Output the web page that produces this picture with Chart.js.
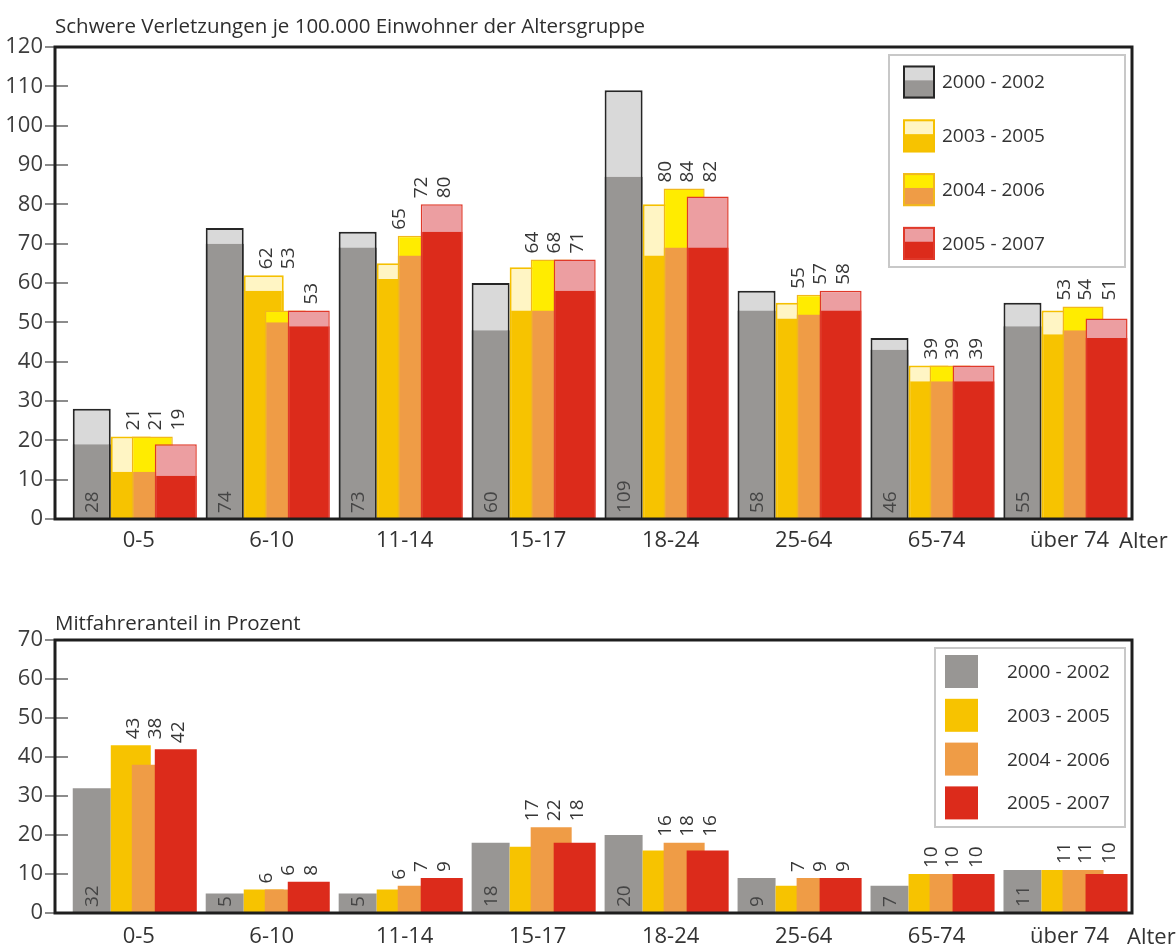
<!DOCTYPE html>
<html><head><meta charset="utf-8">
<script src="https://cdn.jsdelivr.net/npm/chart.js@4"></script>
<style>
html,body{margin:0;padding:0;background:#fff;}
#wrap{position:relative;width:1176px;height:950px;overflow:hidden;}
#c1{position:absolute;left:0;top:0;}
#c2{position:absolute;left:0;top:585px;}
</style></head><body>
<div id="wrap">
<canvas id="c1" width="1176" height="585"></canvas>
<canvas id="c2" width="1176" height="365"></canvas>
</div>
<script>
// ---------------- DATA ----------------
const categories = ['0-5', '6-10', '11-14', '15-17', '18-24', '25-64', '65-74', 'über 74'];
const seriesNames = ['2000 - 2002', '2003 - 2005', '2004 - 2006', '2005 - 2007'];

// Top chart: serious injuries per 100,000 inhabitants (bar height as drawn)
const injTotal0002 = [28, 74, 73, 60, 109, 58, 46, 55];
const injTotal0305 = [21, 62, 65, 64, 80, 55, 39, 53];
const injTotal0406 = [21, 53, 72, 66, 84, 57, 39, 54];
const injTotal0507 = [19, 53, 80, 66, 82, 58, 39, 51];
// darker lower part of each bar
const injLower0002 = [19, 70, 69, 48, 87, 53, 43, 49];
const injLower0305 = [12, 58, 61, 53, 67, 51, 35, 47];
const injLower0406 = [12, 50, 67, 53, 69, 52, 35, 48];
const injLower0507 = [11, 49, 73, 58, 69, 53, 35, 46];
// printed value labels
const injLabel0002 = ['28', '74', '73', '60', '109', '58', '46', '55'];
const injLabel0305 = ['21', '62', '65', '64', '80', '55', '39', '53'];
const injLabel0406 = ['21', '53', '72', '68', '84', '57', '39', '54'];
const injLabel0507 = ['19', '53', '80', '71', '82', '58', '39', '51'];

// Bottom chart: share of passengers in percent
const shr0002 = [32, 5, 5, 18, 20, 9, 7, 11];
const shr0305 = [43, 6, 6, 17, 16, 7, 10, 11];
const shr0406 = [38, 6, 7, 22, 18, 9, 10, 11];
const shr0507 = [42, 8, 9, 18, 16, 9, 10, 10];

const topTitle = 'Schwere Verletzungen je 100.000 Einwohner der Altersgruppe';
const bottomTitle = 'Mitfahreranteil in Prozent';
const axisWord = 'Alter';

// ---------------- STYLE ----------------
const FONT = "'Open Sans', 'Noto Sans', sans-serif";
const barLayout = [
  { off: -0.3236, w: 38 },
  { off: -0.0301, w: 40 },
  { off: 0.1317, w: 41 },
  { off: 0.3085, w: 42 }
];
const topStyles = [
  { dark: '#989694', light: '#d9d9d9', border: '#262626', bw: 2 },
  { dark: '#f7c300', light: '#fff5c4', border: '#f5c000', bw: 2 },
  { dark: '#ef9c46', light: '#ffec00', border: '#f1b81c', bw: 1.5 },
  { dark: '#dc2b1b', light: '#ec9ea1', border: '#e0392a', bw: 1.5 }
];
const bottomColors = ['#989694', '#f7c300', '#ef9c46', '#dc2b1b'];

const injTotals = [injTotal0002, injTotal0305, injTotal0406, injTotal0507];
const injLowers = [injLower0002, injLower0305, injLower0406, injLower0507];
const injLabels = [injLabel0002, injLabel0305, injLabel0406, injLabel0507];
const shrValues = [shr0002, shr0305, shr0406, shr0507];

function pts(values, s) {
  return values.map((v, i) => ({ x: i + barLayout[s].off, y: v }));
}

// ---------------- PLUGINS ----------------
function frameAndTicks(chart) {
  const ctx = chart.ctx, a = chart.chartArea, ys = chart.scales.y;
  ctx.save();
  ctx.strokeStyle = '#8c8c8c';
  ctx.lineWidth = 2;
  ys.ticks.forEach(t => {
    const y = Math.round(ys.getPixelForValue(t.value));
    ctx.beginPath();
    ctx.moveTo(a.left - 10, y);
    ctx.lineTo(a.left + 13, y);
    ctx.stroke();
  });
  ctx.strokeStyle = '#1e1e1e';
  ctx.lineWidth = 3;
  ctx.strokeRect(a.left, a.top, a.right - a.left, a.bottom - a.top);
  ctx.restore();
}

function drawValueLabels(chart, labelFor, kindFilter) {
  const ctx = chart.ctx;
  const metas = [];
  chart.data.datasets.forEach((d, di) => {
    if (d.kind === kindFilter) metas[d.series] = chart.getDatasetMeta(di);
  });
  ctx.save();
  ctx.font = '19px ' + FONT;
  ctx.textBaseline = 'middle';
  ctx.textAlign = 'left';
  metas.forEach((m, s) => {
    m.data.forEach((el, i) => {
      const p = el.getProps(['x', 'y', 'base', 'width'], true);
      const txt = labelFor(s, i);
      ctx.save();
      if (s === 0) {
        ctx.fillStyle = '#454545';
        ctx.translate(p.x, p.base - 6);
      } else {
        const lx = p.x + 2;
        let top = p.y;
        metas.forEach(m2 => {
          const q = m2.data[i].getProps(['x', 'y', 'width'], true);
          if (q.x - q.width / 2 < lx + 7 && q.x + q.width / 2 > lx - 7) top = Math.min(top, q.y);
        });
        ctx.fillStyle = '#363636';
        ctx.translate(lx, top - 6);
      }
      ctx.rotate(-Math.PI / 2);
      ctx.fillText(txt, 0, 1);
      ctx.restore();
    });
  });
  ctx.restore();
}

function drawLegend(chart, cfg) {
  const ctx = chart.ctx, a = chart.chartArea;
  const bx = a.right - cfg.rightGap - cfg.w, by = a.top + cfg.topGap;
  ctx.save();
  ctx.fillStyle = '#fff';
  ctx.fillRect(bx, by, cfg.w, cfg.h);
  ctx.strokeStyle = '#c8c8c8';
  ctx.lineWidth = 2;
  ctx.strokeRect(bx, by, cfg.w, cfg.h);
  ctx.font = '19px ' + FONT;
  ctx.textBaseline = 'middle';
  ctx.textAlign = 'left';
  seriesNames.forEach((name, s) => {
    const cy = by + cfg.firstY + s * cfg.step;
    const sx = bx + cfg.swX, sy = cy - cfg.swH / 2;
    cfg.swatch(ctx, s, sx, sy, cfg.swW, cfg.swH);
    ctx.fillStyle = '#333';
    ctx.fillText(name, bx + cfg.textX, cy + 1);
  });
  ctx.restore();
}

function drawTexts(chart, title, titleY, alterX, alterY) {
  const ctx = chart.ctx, a = chart.chartArea;
  ctx.save();
  ctx.fillStyle = '#2e2e2e';
  ctx.font = '20.5px ' + FONT;
  ctx.textBaseline = 'alphabetic';
  ctx.textAlign = 'left';
  ctx.fillText(title, a.left, titleY);
  ctx.fillStyle = '#333';
  ctx.font = '22px ' + FONT;
  ctx.textBaseline = 'middle';
  ctx.fillText(axisWord, alterX, alterY);
  ctx.restore();
}

// ---------------- TOP CHART ----------------
const topDatasets = [];
seriesNames.forEach((name, s) => {
  const st = topStyles[s], L = barLayout[s];
  topDatasets.push({
    label: name, kind: 'total', series: s,
    data: pts(injTotals[s], s),
    backgroundColor: st.light, borderColor: st.border,
    borderWidth: { top: st.bw, left: st.bw, right: st.bw, bottom: 0 },
    barThickness: L.w, grouped: false, inflateAmount: 0,
    order: 20 - 2 * s
  });
  topDatasets.push({
    label: name + ' (lower)', kind: 'lower', series: s,
    data: pts(injLowers[s], s),
    backgroundColor: st.dark, borderColor: st.border,
    borderWidth: { top: 0, left: st.bw, right: st.bw, bottom: 0 },
    barThickness: L.w, grouped: false, inflateAmount: 0,
    order: 19 - 2 * s
  });
});

function xScale(h, pad) {
  return {
    type: 'linear', min: -0.6, max: 7.5, offset: false,
    grid: { display: false, drawTicks: false, offset: false }, border: { display: false },
    afterBuildTicks: sc => { sc.ticks = categories.map((c, i) => ({ value: i })); },
    afterFit: sc => { sc.height = h; },
    ticks: {
      autoSkip: false, maxRotation: 0, minRotation: 0, padding: pad, labelOffset: 4,
      color: '#333', font: { family: FONT, size: 22 },
      callback: v => categories[Math.round(v)] || ''
    }
  };
}
function yScale(max) {
  return {
    min: 0, max: max,
    grid: { display: false, drawTicks: false }, border: { display: false },
    afterFit: sc => { sc.width = 55; },
    ticks: { stepSize: 10, padding: 12, color: '#3d3d3d', font: { family: FONT, size: 22 } }
  };
}

new Chart(document.getElementById('c1'), {
  type: 'bar',
  data: { datasets: topDatasets },
  options: {
    responsive: false, animation: false,
    layout: { padding: { top: 47, right: 44, left: 0, bottom: 0 } },
    plugins: { legend: { display: false }, tooltip: { enabled: false }, title: { display: false } },
    scales: { x: xScale(66, 9), y: yScale(120) }
  },
  plugins: [{
    id: 'topDeco',
    afterDatasetsDraw(chart) {
      frameAndTicks(chart);
      drawValueLabels(chart, (s, i) => injLabels[s][i], 'total');
      drawLegend(chart, {
        rightGap: 7, topGap: 8, w: 236, h: 212, firstY: 27, step: 53.8,
        swX: 14, swW: 32, swH: 33, textX: 53,
        swatch(ctx, s, x, y, w, h) {
          const st = topStyles[s];
          ctx.fillStyle = st.light; ctx.fillRect(x, y, w, h);
          ctx.fillStyle = st.dark; ctx.fillRect(x, y + h * 0.45, w, h * 0.55);
          ctx.strokeStyle = st.border; ctx.lineWidth = 2;
          ctx.strokeRect(x + 1, y + 1, w - 2, h - 2);
        }
      });
      drawTexts(chart, topTitle, 33, 1119, 542);
    }
  }]
});

// ---------------- BOTTOM CHART ----------------
const bottomDatasets = seriesNames.map((name, s) => ({
  label: name, kind: 'share', series: s,
  data: pts(shrValues[s], s),
  backgroundColor: bottomColors[s], borderWidth: 0,
  barThickness: barLayout[s].w, grouped: false, inflateAmount: 0,
  order: 10 - s
}));

new Chart(document.getElementById('c2'), {
  type: 'bar',
  data: { datasets: bottomDatasets },
  options: {
    responsive: false, animation: false,
    layout: { padding: { top: 55, right: 44, left: 0, bottom: 0 } },
    plugins: { legend: { display: false }, tooltip: { enabled: false }, title: { display: false } },
    scales: { x: xScale(37, 11), y: yScale(70) }
  },
  plugins: [{
    id: 'bottomDeco',
    afterDatasetsDraw(chart) {
      frameAndTicks(chart);
      drawValueLabels(chart, (s, i) => String(shrValues[s][i]), 'share');
      drawLegend(chart, {
        rightGap: 7, topGap: 8, w: 190, h: 179, firstY: 23.5, step: 43.8,
        swX: 10, swW: 33, swH: 33, textX: 72,
        swatch(ctx, s, x, y, w, h) {
          ctx.fillStyle = bottomColors[s]; ctx.fillRect(x, y, w, h);
        }
      });
      drawTexts(chart, bottomTitle, 45, 1127, 353);
    }
  }]
});
</script>
</body></html>
